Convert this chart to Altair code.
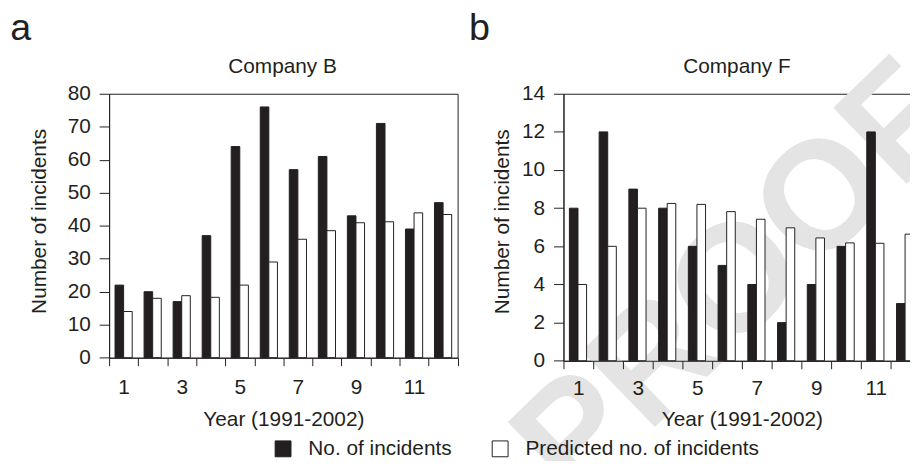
import altair as alt
import pandas as pd

years = list(range(1, 13))
series_names = ["No. of incidents", "Predicted no. of incidents"]
b_actual = [22, 20, 17, 37, 64, 76, 57, 61, 43, 71, 39, 47]
b_pred = [14, 18, 18.8, 18.3, 22, 29, 35.9, 38.5, 40.9, 41.2, 43.9, 43.4]
f_actual = [8, 12, 9, 8, 6, 5, 4, 2, 4, 6, 12, 3]
f_pred = [4, 6, 8, 8.25, 8.2, 7.82, 7.42, 6.97, 6.44, 6.18, 6.16, 6.64]
b_yticks = [0, 10, 20, 30, 40, 50, 60, 70, 80]
f_yticks = [0, 2, 4, 6, 8, 10, 12, 14]

FONT = "Liberation Sans"
INK = "#231f20"


def long_df(actual, pred):
    rows = []
    for y, a, p in zip(years, actual, pred):
        rows.append({"year": y, "series": series_names[0], "value": a})
        rows.append({"year": y, "series": series_names[1], "value": p})
    return pd.DataFrame(rows)


color_scale = alt.Scale(domain=series_names, range=[INK, "#ffffff"])
legend = alt.Legend(
    orient="none", legendX=165, legendY=347.5, direction="horizontal",
    title=None, symbolType="square", symbolSize=256, symbolStrokeColor=INK,
    symbolStrokeWidth=1, labelFontSize=21, labelFont=FONT, labelColor=INK,
    labelOffset=15, columnPadding=38, labelLimit=0, padding=0,
)


def panel(df, letter, letter_x, title, ymax, yticks, width, height, ytp, xlp,
          title_y, watermark=False):
    bars = alt.Chart(df).mark_bar(stroke=INK, strokeWidth=1).encode(
        x=alt.X(
            "year:O",
            scale=alt.Scale(paddingInner=0, paddingOuter=0),
            axis=alt.Axis(
                title="Year (1991-2002)", tickBand="extent", labelAngle=0,
                labelExpr="datum.value % 2 == 1 ? datum.label : ''",
                tickSize=8, labelPadding=xlp, titlePadding=11, zindex=2,
            ),
        ),
        xOffset=alt.XOffset(
            "series:N",
            scale=alt.Scale(domain=series_names, paddingInner=0, paddingOuter=0.69),
        ),
        y=alt.Y(
            "value:Q",
            scale=alt.Scale(domain=[0, ymax], nice=False),
            axis=alt.Axis(
                values=yticks, title="Number of incidents", tickSize=10,
                labelPadding=9, titlePadding=ytp, titleY=title_y, zindex=2,
            ),
        ),
        color=alt.Color("series:N", scale=color_scale, legend=legend),
    )
    letter_t = alt.Chart(pd.DataFrame({"t": [letter]})).mark_text(
        align="left", baseline="alphabetic", fontSize=38, font=FONT, color=INK
    ).encode(x=alt.value(letter_x), y=alt.value(-54.2), text="t:N")
    title_t = alt.Chart(pd.DataFrame({"t": [title]})).mark_text(
        align="center", baseline="alphabetic", fontSize=21, font=FONT, color=INK
    ).encode(x=alt.value(175), y=alt.value(-21), text="t:N")
    layers = []
    if watermark:
        wm = alt.Chart(pd.DataFrame({"t": ["PROOF"]})).mark_text(
            align="center", baseline="middle", fontSize=155, fontWeight="bold",
            font=FONT, color="#e4e4e4", angle=316,
        ).encode(x=alt.value(176), y=alt.value(190), text="t:N")
        layers.append(wm)
    layers += [bars, letter_t, title_t]
    return alt.layer(*layers).properties(width=width, height=height)


panel_a = panel(long_df(b_actual, b_pred), "a", -99.8, "Company B", 80, b_yticks,
                351.6, 266.3, 18, 11.5, 128.3)
panel_b = panel(long_df(f_actual, f_pred), "b", -95.3, "Company F", 14, f_yticks,
                360, 269.4, 9, 8.8, 128.7, watermark=True)

chart = alt.hconcat(panel_a, panel_b, spacing=106.4, bounds="flush").properties(
    autosize=alt.AutoSizeParams(type="none"),
    padding={"left": 102, "top": 84.5, "right": 808, "bottom": 368.5},
).configure_view(stroke=INK, strokeWidth=1).configure_axis(
    domainColor=INK, tickColor=INK, labelColor=INK, titleColor=INK,
    labelFont=FONT, titleFont=FONT, labelFontSize=21, titleFontSize=21,
    titleFontWeight="normal", grid=False, domainWidth=1, tickWidth=1,
)

chart.save("out.html", embed_options={"renderer": "svg", "actions": False})
